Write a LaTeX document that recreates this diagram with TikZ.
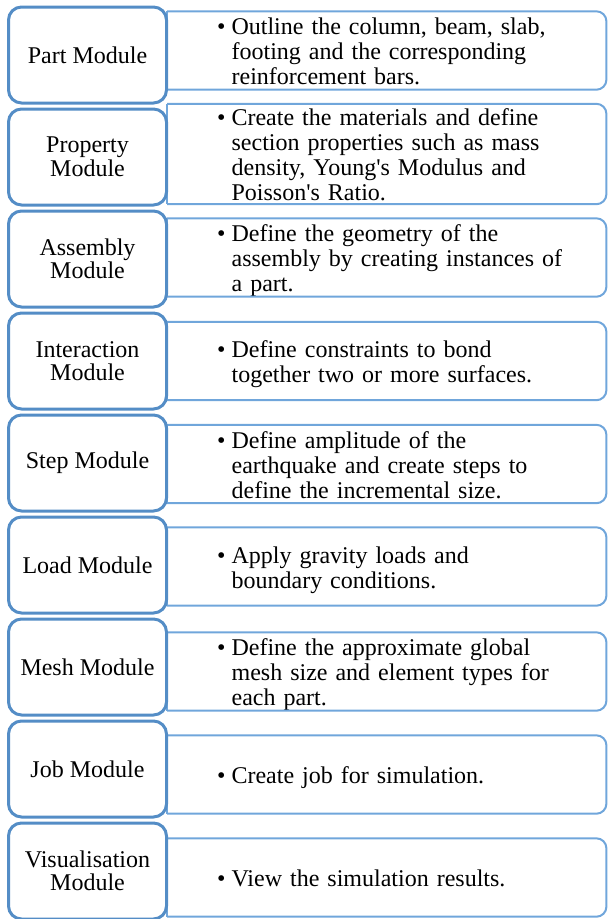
\documentclass[tikz,border=0pt]{standalone}
\usepackage{fontspec}
\setmainfont{Liberation Serif}
\definecolor{modblue}{RGB}{84,141,198}
\definecolor{descblue}{RGB}{112,166,219}
\newcommand{\bultext}[1]{\noindent\hspace*{40pt}\raisebox{0pt}[\dimexpr\height+4pt][\dimexpr\depth-4pt]{\textbullet\hspace{6pt}\begin{tabular}[t]{@{}l@{}}#1\end{tabular}}}
\tikzset{
  modbox/.style={draw=modblue,line width=3pt,rounded corners=13pt,fill=white,
    minimum width=158pt,minimum height=96pt,inner sep=0pt,align=center,
    font=\fontsize{24}{23.5}\selectfont},
  descbox/.style={anchor=west,minimum width=439pt,minimum height=78pt,
    text width=419pt,inner xsep=10pt,inner ysep=0pt,align=left,
    font=\fontsize{24}{25}\selectfont},
  descline/.style={draw=descblue,line width=2pt}
}
\begin{document}
\begin{tikzpicture}[x=1pt,y=-1pt]
  \useasboundingbox (0,0) rectangle (609,919);

  %Filas: nombre/modulo/y izquierda/y derecha/descripcion
  \foreach \nm/\lab/\yl/\yr/\txt in {
    part/{Part Module}/55/50.5/{Outline the column, beam, slab,\\footing and the corresponding\\reinforcement bars.},
    property/{Property\\Module}/157/154/{Create the materials and define\\section properties such as mass\\density, Young\textquotesingle s Modulus and\\Poisson\textquotesingle s Ratio.},
    assembly/{Assembly\\Module}/259/257.5/{Define the geometry of the\\assembly by creating instances of\\a part.},
    interaction/{Interaction\\Module}/361/361/{Define constraints to bond\\together two or more surfaces.},
    stepmod/{Step Module}/463/464/{Define amplitude of the\\earthquake and create steps to\\define the incremental size.},
    load/{Load Module}/565/566.5/{Apply gravity loads and\\boundary conditions.},
    mesh/{Mesh Module}/667/671.5/{Define the approximate global\\mesh size and element types for\\each part.},
    job/{Job Module}/769/774.5/{Create job for simulation.},
    visual/{Visualisation\\Module}/871/877.5/{View the simulation results.}
  }{
    %Caja derecha
    \node[descbox] (\nm-d) at (167,\yr) {\bultext{\txt}};
    \draw[descline,rounded corners=10pt] (\nm-d.north west)--(\nm-d.north east)--(\nm-d.south east)--(\nm-d.south west);
    \draw[descline,line cap=square] (\nm-d.north west)--(\nm-d.south west);
    %Caja izquierda
    \node[modbox] (\nm) at (87.5,\yl) {\lab};
  }
\end{tikzpicture}
\end{document}
